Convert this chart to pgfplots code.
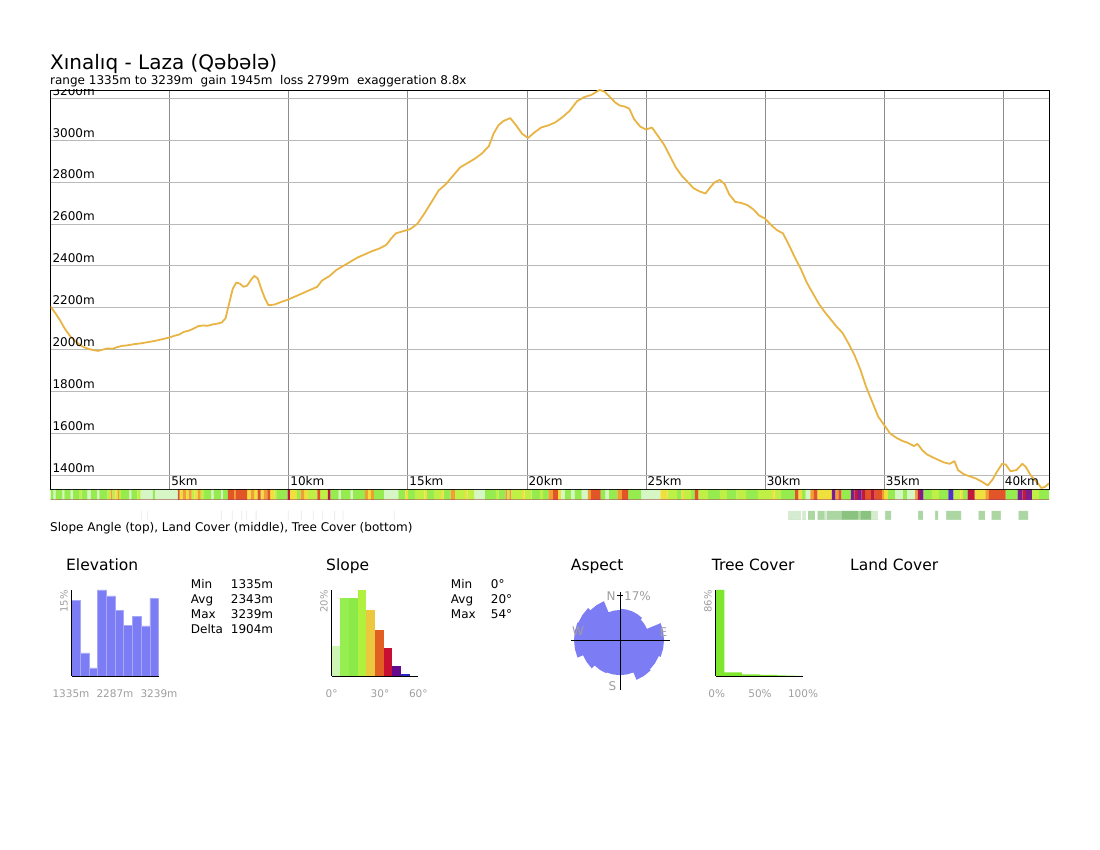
\documentclass[border=0pt]{standalone}
\usepackage{pgfplots}
\pgfplotsset{compat=1.18}
\usepackage{pgfplotstable}
\usepackage{fontspec}
\setmainfont{DejaVu Sans}
\newcommand{\fs}[1]{\fontsize{#1pt}{#1pt}\selectfont}

\definecolor{prof}{RGB}{232,180,68}
\definecolor{lav}{RGB}{124,124,244}
\definecolor{lavline}{RGB}{168,168,250}
\definecolor{lbl}{RGB}{158,158,158}
\definecolor{hgrid}{RGB}{185,185,185}
\definecolor{vgrid}{RGB}{140,140,140}
% slope strip colours
\definecolor{s0}{RGB}{214,246,198}
\definecolor{s1}{RGB}{150,236,78}
\definecolor{s2}{RGB}{192,240,70}
\definecolor{s3}{RGB}{240,224,62}
\definecolor{s4}{RGB}{240,160,50}
\definecolor{s5}{RGB}{225,85,40}
\definecolor{s6}{RGB}{195,25,60}
\definecolor{s7}{RGB}{125,30,140}
\definecolor{s8}{RGB}{80,50,195}
% tree strip colours
\definecolor{t0}{RGB}{255,255,255}
\definecolor{t1}{RGB}{214,236,208}
\definecolor{t2}{RGB}{172,214,162}
\definecolor{t3}{RGB}{138,194,128}
\definecolor{t4}{RGB}{238,238,238}
% slope histogram colours
\definecolor{h0}{RGB}{205,245,180}
\definecolor{h1}{RGB}{150,238,80}
\definecolor{h2}{RGB}{140,234,72}
\definecolor{h3}{RGB}{176,240,62}
\definecolor{h4}{RGB}{236,200,62}
\definecolor{h5}{RGB}{225,95,35}
\definecolor{h6}{RGB}{200,15,50}
\definecolor{h7}{RGB}{100,10,140}
\definecolor{h8}{RGB}{40,40,200}
\definecolor{tg}{RGB}{125,230,45}

\pgfplotstableread{
km ele
0.00 2205
0.20 2175
0.40 2140
0.60 2100
0.80 2068
1.00 2045
1.20 2025
1.40 2012
1.60 2003
1.80 1998
2.00 1994
2.20 2000
2.40 2006
2.60 2004
2.80 2012
3.00 2018
3.20 2020
3.50 2026
3.80 2030
4.10 2036
4.40 2042
4.70 2050
5.00 2058
5.20 2066
5.40 2072
5.60 2085
5.80 2090
6.00 2100
6.20 2112
6.40 2115
6.60 2114
6.80 2120
7.00 2124
7.20 2130
7.35 2150
7.50 2220
7.65 2290
7.80 2320
7.95 2315
8.10 2300
8.25 2305
8.40 2330
8.55 2352
8.70 2340
8.85 2290
9.00 2245
9.15 2212
9.40 2215
9.70 2228
10.00 2240
10.30 2255
10.60 2270
10.90 2285
11.20 2300
11.40 2330
11.70 2350
12.00 2380
12.30 2400
12.60 2420
12.90 2440
13.20 2455
13.50 2470
13.80 2482
14.10 2500
14.30 2530
14.50 2555
14.80 2565
15.10 2575
15.40 2600
15.70 2650
16.00 2705
16.30 2760
16.60 2790
16.90 2830
17.20 2870
17.50 2890
17.80 2910
18.10 2935
18.40 2970
18.60 3030
18.80 3070
19.00 3090
19.30 3105
19.55 3070
19.80 3030
20.05 3010
20.30 3035
20.60 3060
20.90 3070
21.20 3085
21.50 3110
21.80 3140
22.10 3185
22.40 3205
22.70 3215
23.05 3239
23.25 3232
23.45 3210
23.70 3180
23.90 3165
24.10 3160
24.30 3150
24.50 3100
24.75 3065
25.00 3050
25.25 3060
25.50 3020
25.75 2980
26.00 2925
26.25 2870
26.50 2830
26.75 2800
27.00 2770
27.25 2755
27.50 2745
27.70 2775
27.90 2800
28.10 2810
28.30 2790
28.50 2740
28.75 2705
29.00 2700
29.25 2690
29.50 2670
29.75 2640
30.00 2625
30.25 2595
30.50 2570
30.75 2555
31.00 2500
31.25 2440
31.50 2385
31.75 2320
32.00 2270
32.25 2220
32.50 2180
32.75 2145
33.00 2110
33.25 2080
33.50 2030
33.75 1975
34.00 1905
34.25 1820
34.50 1750
34.75 1680
35.00 1640
35.25 1600
35.50 1580
35.75 1565
36.00 1555
36.25 1540
36.40 1550
36.60 1520
36.80 1500
37.00 1488
37.25 1475
37.50 1462
37.75 1455
37.95 1468
38.10 1425
38.35 1405
38.60 1395
38.85 1385
39.10 1370
39.35 1352
39.55 1380
39.75 1420
39.95 1455
40.10 1452
40.30 1420
40.55 1425
40.80 1455
40.95 1440
41.15 1400
41.40 1370
41.60 1340
41.75 1345
41.92 1362
}\profile

\pgfplotstableread{
km c
0.00 1
0.12 0
0.22 1
0.50 0
0.58 1
0.85 0
0.95 1
1.20 2
1.30 1
1.55 0
1.70 1
1.95 0
2.05 1
2.40 2
2.52 4
2.60 2
2.72 3
2.82 4
2.88 2
2.95 1
3.30 0
3.40 1
3.65 2
3.78 0
4.30 1
4.38 0
5.35 5
5.42 3
5.55 4
5.68 3
5.80 4
5.92 2
6.05 3
6.18 4
6.30 2
6.45 1
6.75 0
6.85 1
7.15 0
7.25 1
7.45 5
7.70 4
7.78 5
8.25 3
8.40 4
8.55 3
8.70 5
8.82 3
8.95 4
9.10 5
9.22 3
9.40 2
9.50 1
9.95 6
10.05 3
10.35 1
10.50 4
10.65 3
10.80 2
11.20 5
11.32 2
11.65 6
11.75 1
12.10 0
12.20 1
12.60 0
12.70 1
13.20 4
13.32 3
13.45 4
13.58 1
14.00 0
14.60 1
14.90 3
15.00 1
15.30 2
15.70 3
15.80 1
16.10 2
16.40 3
16.50 1
16.80 4
16.98 2
17.40 3
17.50 2
17.80 0
18.25 1
18.70 2
18.80 1
19.10 4
19.18 2
19.26 4
19.35 2
19.80 3
19.90 2
20.20 1
20.55 2
20.68 1
20.90 4
21.10 5
21.30 3
21.43 0
21.60 1
21.85 0
22.00 1
22.30 0
22.56 4
22.70 5
23.10 1
23.30 0
23.45 1
23.80 4
24.00 5
24.25 1
24.80 0
25.60 3
25.90 2
26.30 1
26.50 3
26.60 2
26.90 1
27.05 5
27.20 2
27.60 1
28.10 2
28.40 1
28.80 2
29.20 1
29.70 2
30.00 2
30.30 3
30.40 2
30.67 1
31.26 5
31.40 3
31.55 1
31.70 0
31.90 4
32.05 5
32.20 3
32.80 7
32.95 4
33.08 5
33.20 1
33.60 7
33.75 6
33.90 7
34.05 6
34.20 5
34.45 6
34.60 5
34.90 4
35.00 3
35.15 1
35.45 0
35.80 1
35.95 0
36.30 4
36.40 6
36.50 7
36.65 1
37.00 2
37.30 1
37.70 8
37.90 2
38.20 3
38.30 1
38.50 6
38.80 3
39.25 4
39.40 5
40.10 1
40.60 7
40.80 6
40.95 7
41.20 2
41.50 1
41.92 1
}\slopestrip

\pgfplotstableread{
km c
0.00 0
3.78 4
3.84 0
4.05 4
4.10 0
7.14 4
7.20 0
7.60 4
7.66 0
8.00 4
8.06 0
8.20 4
8.26 0
8.60 4
8.66 0
9.95 4
10.01 0
10.50 4
10.56 0
11.00 4
11.06 0
11.40 4
11.46 0
11.90 4
11.96 0
12.25 4
12.31 0
14.40 4
14.46 0
30.97 1
31.51 0
31.55 1
31.72 0
31.80 2
32.10 0
32.20 2
32.50 1
32.60 2
33.20 3
33.90 2
34.00 3
34.45 1
34.75 0
35.04 2
35.30 0
36.43 2
36.64 0
37.14 2
37.27 0
37.60 2
38.24 0
38.95 2
39.24 0
39.50 2
39.90 0
40.63 2
41.05 0
41.92 0
}\treestrip

\pgfplotstableread{
bin pct
0 13.1
1 4.0
2 1.4
3 14.9
4 13.9
5 11.4
6 8.8
7 10.3
8 8.7
9 13.4
10 0
}\elehist

\begin{document}
\begin{tikzpicture}[x=1pt,y=1pt]
\path (0,0) rectangle (1100,850);

% titles
\node[anchor=base west, inner sep=0] at (50,780.5) {\fs{20}Xınalıq - Laza (Qəbələ)};
\node[anchor=base west, inner sep=0] at (50,765.5) {\fs{12}range 1335m to 3239m~ gain 1945m~ loss 2799m~ exaggeration 8.8x};

% main profile
\begin{axis}[at={(50.5pt,361pt)}, anchor=south west, scale only axis,
  width=998.5pt, height=399pt,
  xmin=0, xmax=41.92, ymin=1335, ymax=3239,
  xtick={5,10,15,20,25,30,35,40},
  ytick={1400,1600,1800,2000,2200,2400,2600,2800,3000,3200},
  xticklabel=\empty, yticklabel=\empty,
  major tick length=0pt, tick style={draw=none},
  grid=major,
  x grid style={color=vgrid, line width=0.7pt},
  y grid style={color=hgrid, line width=0.7pt},
  axis line style={black, line width=0.7pt}]
\addplot[prof, line width=1.8pt, line join=round, no marks] table[x=km,y=ele]{\profile};
\pgfplotsinvokeforeach{1400,1600,1800,2000,2200,2400,2600,2800,3000,3200}{
  \node[anchor=base west, inner sep=0, xshift=1.8pt, yshift=3pt] at (axis cs:0,#1) {\fs{12}#1m};
}
\pgfplotsinvokeforeach{5,10,15,20,25,30,35,40}{
  \node[anchor=base west, inner sep=0, xshift=1.5pt, yshift=3pt] at (axis cs:#1,1335) {\fs{12}#1km};
}
\end{axis}

% slope angle strip
\begin{axis}[at={(50.5pt,350pt)}, anchor=south west, scale only axis,
  width=998.5pt, height=10pt, xmin=0, xmax=41.92, ymin=0.5, ymax=1, hide axis, clip=true]
\pgfplotsinvokeforeach{0,1,2,3,4,5,6,7,8}{
  \addplot[ybar interval, fill=s#1, draw=none] table[x=km, y expr={\thisrow{c}==#1}]{\slopestrip};
}
\end{axis}

% tree cover strip (empty class 0 drawn last in white)
\begin{axis}[at={(50.5pt,330pt)}, anchor=south west, scale only axis,
  width=998.5pt, height=9pt, xmin=0, xmax=41.92, ymin=0.5, ymax=1, hide axis, clip=true]
\pgfplotsinvokeforeach{1,2,3,4,0}{
  \addplot[ybar interval, fill=t#1, draw=none] table[x=km, y expr={\thisrow{c}==#1}]{\treestrip};
}
\end{axis}

\node[anchor=base west, inner sep=0] at (50,318) {\fs{12}Slope Angle (top), Land Cover (middle), Tree Cover (bottom)};

% section titles
\node[anchor=base west, inner sep=0] at (66,279.5) {\fs{15.5}Elevation};
\node[anchor=base west, inner sep=0] at (326,279.5) {\fs{15.5}Slope};
\node[anchor=base west, inner sep=0] at (570.7,279.5) {\fs{15.5}Aspect};
\node[anchor=base west, inner sep=0] at (711.7,279.5) {\fs{15.5}Tree Cover};
\node[anchor=base west, inner sep=0] at (850,279.5) {\fs{15.5}Land Cover};

% elevation histogram
\begin{axis}[at={(71.5pt,174pt)}, anchor=south west, scale only axis,
  width=87pt, height=86pt, xmin=0, xmax=10, ymin=0, ymax=14.9,
  axis lines*=left, xtick=\empty, ytick=\empty, axis on top,
  axis line style={black, line width=0.8pt}]
\addplot[ybar interval, fill=lav, draw=lavline, line width=0.5pt] table[x=bin,y=pct]{\elehist};
\end{axis}
\node[rotate=90, anchor=south east, inner sep=0, text=lbl] at (68,260) {\fs{10}15\%};
\node[anchor=base, inner sep=0, text=lbl] at (71,152) {\fs{10.5}1335m};
\node[anchor=base, inner sep=0, text=lbl] at (115,152) {\fs{10.5}2287m};
\node[anchor=base, inner sep=0, text=lbl] at (159,152) {\fs{10.5}3239m};
\node[anchor=base west, inner sep=0] at (190.7,261) {\fs{12}Min};
\node[anchor=base west, inner sep=0] at (190.7,246) {\fs{12}Avg};
\node[anchor=base west, inner sep=0] at (190.7,231) {\fs{12}Max};
\node[anchor=base west, inner sep=0] at (190.7,216) {\fs{12}Delta};
\node[anchor=base west, inner sep=0] at (230.7,261) {\fs{12}1335m};
\node[anchor=base west, inner sep=0] at (230.7,246) {\fs{12}2343m};
\node[anchor=base west, inner sep=0] at (230.7,231) {\fs{12}3239m};
\node[anchor=base west, inner sep=0] at (230.7,216) {\fs{12}1904m};

% slope histogram
\begin{axis}[at={(331.7pt,174pt)}, anchor=south west, scale only axis,
  width=86.6pt, height=86pt, xmin=0, xmax=60, ymin=0, ymax=20.1,
  axis lines*=left, xtick=\empty, ytick=\empty, axis on top,
  axis line style={black, line width=0.8pt}]
\addplot[ybar interval, fill=h0, draw=none] coordinates {(0,7.0)(6,0)};
\addplot[ybar interval, fill=h1, draw=none] coordinates {(6,18.2)(12,0)};
\addplot[ybar interval, fill=h2, draw=none] coordinates {(12,18.3)(18,0)};
\addplot[ybar interval, fill=h3, draw=none] coordinates {(18,20.1)(24,0)};
\addplot[ybar interval, fill=h4, draw=none] coordinates {(24,15.5)(30,0)};
\addplot[ybar interval, fill=h5, draw=none] coordinates {(30,10.7)(36,0)};
\addplot[ybar interval, fill=h6, draw=none] coordinates {(36,6.6)(42,0)};
\addplot[ybar interval, fill=h7, draw=none] coordinates {(42,2.3)(48,0)};
\addplot[ybar interval, fill=h8, draw=none] coordinates {(48,0.4)(54,0)};
\end{axis}
\node[rotate=90, anchor=south east, inner sep=0, text=lbl] at (328,260) {\fs{10}20\%};
\node[anchor=base, inner sep=0, text=lbl] at (331.7,152) {\fs{10.5}0°};
\node[anchor=base, inner sep=0, text=lbl] at (380,152) {\fs{10.5}30°};
\node[anchor=base, inner sep=0, text=lbl] at (418.3,152) {\fs{10.5}60°};
\node[anchor=base west, inner sep=0] at (450.7,261) {\fs{12}Min};
\node[anchor=base west, inner sep=0] at (450.7,246) {\fs{12}Avg};
\node[anchor=base west, inner sep=0] at (450.7,231) {\fs{12}Max};
\node[anchor=base west, inner sep=0] at (490.7,261) {\fs{12}0°};
\node[anchor=base west, inner sep=0] at (490.7,246) {\fs{12}20°};
\node[anchor=base west, inner sep=0] at (490.7,231) {\fs{12}54°};

% aspect rose
\begin{axis}[at={(570pt,160pt)}, anchor=south west, scale only axis,
  width=100pt, height=100pt, xmin=-17.5, xmax=17.5, ymin=-17.5, ymax=17.5,
  hide axis, clip=false]
\addplot[data cs=polar, fill=lav, draw=none] coordinates {
(90,10.9)(78.75,10.9)(67.5,10.9)
(67.5,10.9)(56.25,10.9)(45,10.9)
(45,10.2)(33.75,10.2)(22.5,10.2)
(22.5,15.4)(11.25,15.4)(0,15.4)
(0,15.4)(-11.25,15.4)(-22.5,15.4)
(-22.5,14.7)(-33.75,14.7)(-45,14.7)
(-45,15.1)(-56.25,15.1)(-67.5,15.1)
(-67.5,12.3)(-78.75,12.3)(-90,12.3)
(-90,12.3)(-101.25,12.3)(-112.5,12.3)
(-112.5,12.6)(-123.75,12.6)(-135,12.6)
(-135,14.0)(-146.25,14.0)(-157.5,14.0)
(-157.5,16.1)(-168.75,16.1)(-180,16.1)
(180,16.1)(168.75,16.1)(157.5,16.1)
(157.5,15.8)(146.25,15.8)(135,15.8)
(135,14.7)(123.75,14.7)(112.5,14.7)
(112.5,10.5)(101.25,10.5)(90,10.5)
} -- cycle;
\addplot[black, line width=0.8pt, no marks] coordinates {(-17.2,0)(17.5,0)};
\addplot[black, line width=0.8pt, no marks] coordinates {(0,16.8)(0,-17.5)};
\addplot[black, line width=0.8pt, no marks] coordinates {(-1.0,15.5)(1.0,15.5)};
\end{axis}
\node[text=lbl, inner sep=0] at (611,254) {\fs{12}N};
\node[text=lbl, inner sep=0, anchor=west] at (624,254) {\fs{12}17\%};
\node[text=lbl, inner sep=0] at (578,218.5) {\fs{12}W};
\node[text=lbl, inner sep=0] at (663.5,218) {\fs{12}E};
\node[text=lbl, inner sep=0] at (612.5,164) {\fs{12}S};

% tree cover histogram
\begin{axis}[at={(715.7pt,174pt)}, anchor=south west, scale only axis,
  width=87.6pt, height=86pt, xmin=0, xmax=100, ymin=0, ymax=86,
  axis lines*=left, xtick=\empty, ytick=\empty, axis on top,
  axis line style={black, line width=0.8pt}]
\addplot[ybar interval, fill=tg, draw=none] coordinates {(0,86)(10,3.5)(20,3.5)(30,1.7)(40,1.7)(50,1.0)(60,1.0)(70,0.5)(80,0.3)(90,0)(100,0)};
\end{axis}
\node[rotate=90, anchor=south east, inner sep=0, text=lbl] at (712,260) {\fs{10}86\%};
\node[anchor=base, inner sep=0, text=lbl] at (716.7,152) {\fs{10.5}0\%};
\node[anchor=base, inner sep=0, text=lbl] at (760,152) {\fs{10.5}50\%};
\node[anchor=base, inner sep=0, text=lbl] at (803,152) {\fs{10.5}100\%};

\pgfresetboundingbox
\useasboundingbox (0,0) rectangle (1100,850);
\end{tikzpicture}
\end{document}
